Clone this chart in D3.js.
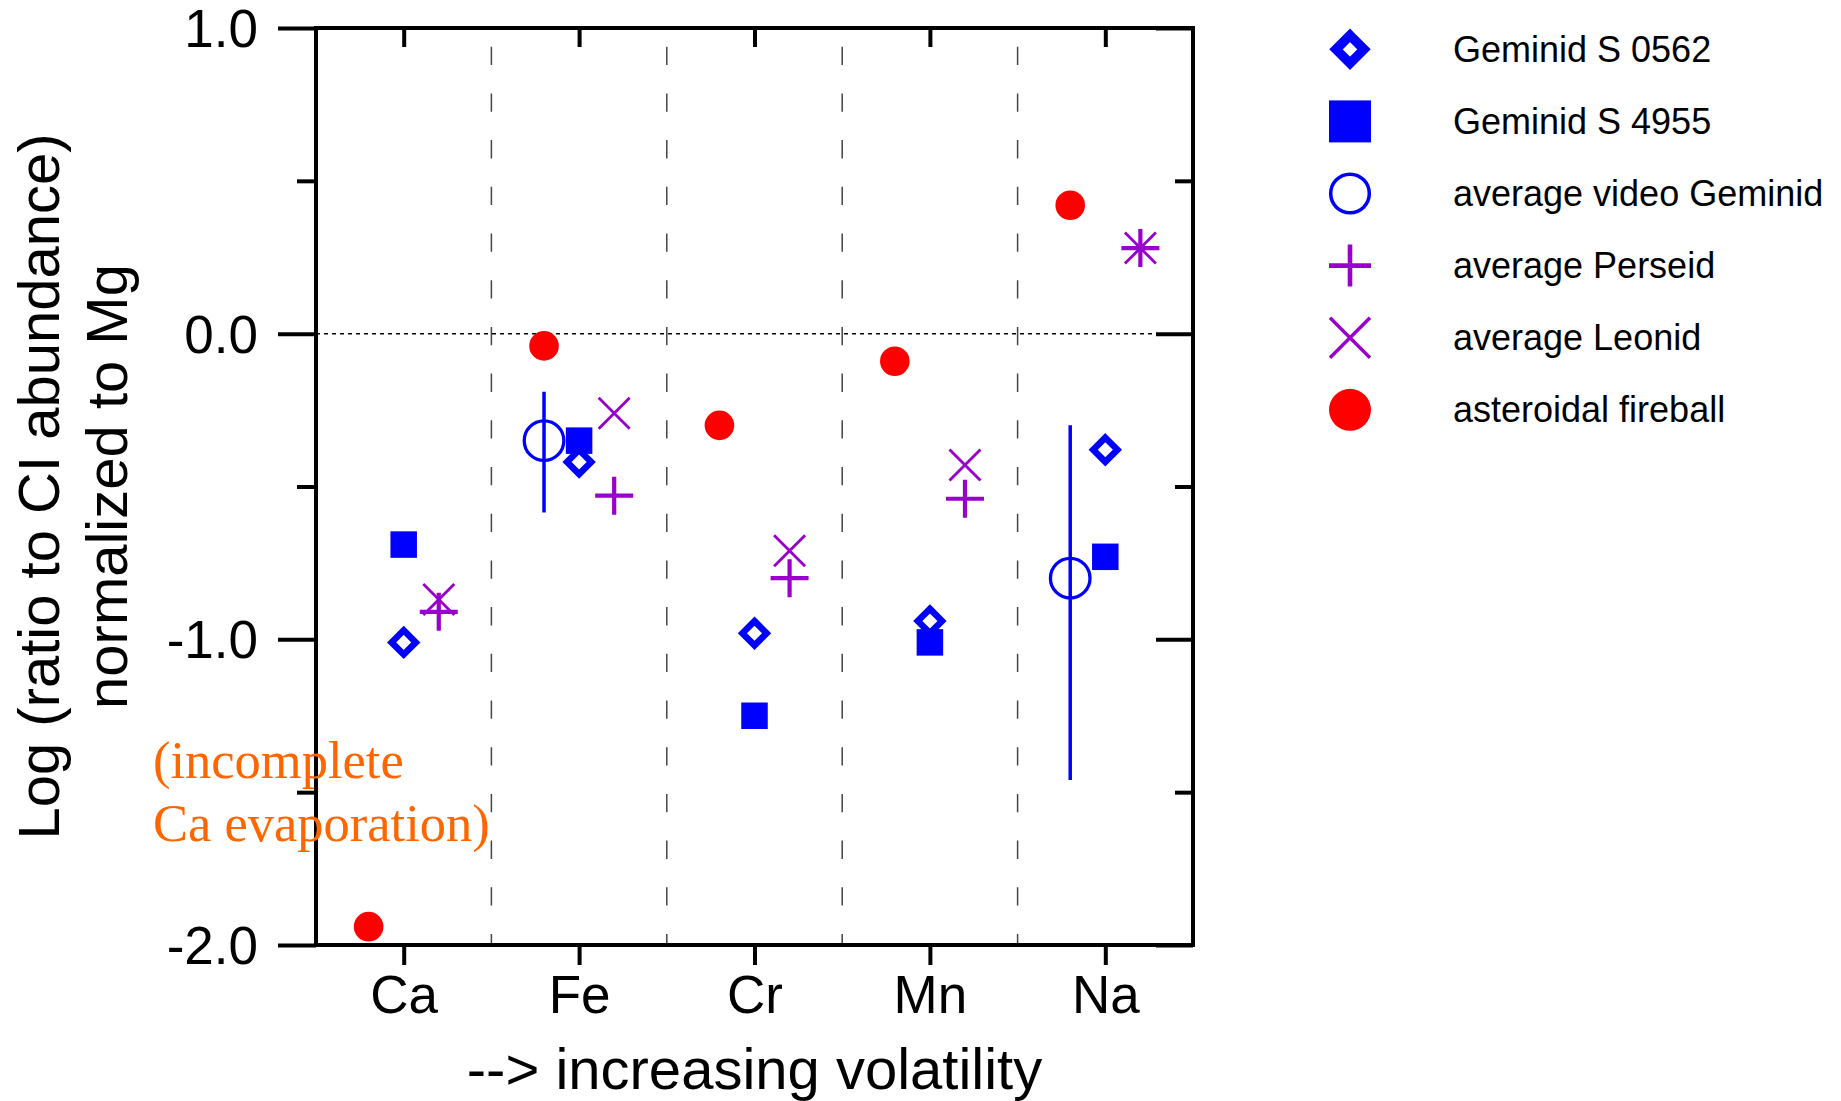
<!DOCTYPE html>
<html>
<head>
<meta charset="utf-8">
<script src="https://cdn.jsdelivr.net/npm/d3@7"></script>
<style>
  html, body { margin: 0; padding: 0; background: #fff; }
  svg { display: block; }
  text { font-family: "Liberation Sans", Arial, sans-serif; }
</style>
</head>
<body>
<svg id="chart" width="1841" height="1101"></svg>
<script>
// ---------------- data ----------------
const elements = ["Ca", "Fe", "Cr", "Mn", "Na"];
const gem0562 = [-1.01, -0.42, -0.98, -0.94, -0.38];
const gem4955 = [-0.69, -0.35, -1.25, -1.01, -0.73];
const videoGem = [null, -0.35, null, null, -0.80];
const videoLow = [null, -0.585, null, null, -1.46];
const videoHigh = [null, -0.19, null, null, -0.30];
const perseid = [-0.91, -0.53, -0.80, -0.54, 0.28];
const leonid = [-0.87, -0.26, -0.71, -0.43, 0.28];
const fireball = [-1.94, -0.04, -0.30, -0.09, 0.42];

const yMajor = [1, 0, -1, -2];
const yMajorLabels = ["1.0", "0.0", "-1.0", "-2.0"];
const yMinor = [0.5, -0.5, -1.5];
const separators = [1.5, 2.5, 3.5, 4.5];

const legendLabels = ["Geminid S 0562", "Geminid S 4955", "average video Geminid",
                      "average Perseid", "average Leonid", "asteroidal fireball"];

const yTitle = ["Log (ratio to CI abundance)", "normalized to Mg"];
const xTitle = "--> increasing volatility";
const note = ["(incomplete", "Ca evaporation)"];

// ---------------- setup ----------------
const BLUE = "#0000ff", RED = "#ff0000", PURPLE = "#9900cc", ORANGE = "#ff6600";
const svg = d3.select("#chart");
const L = 316, R = 1193, T = 28, B = 945;
const x = d3.scaleLinear().domain([0.5, 5.5]).range([L, R]);
const y = d3.scaleLinear().domain([-2, 1]).range([B, T]);
const OFF = 0.2;

const idx = elements.map((e, i) => i + 1);

// separators (dashed)
svg.append("g").selectAll("line").data(separators).join("line")
  .attr("x1", d => x(d)).attr("x2", d => x(d))
  .attr("y1", T + 18.7).attr("y2", B)
  .attr("stroke", "#444").attr("stroke-width", 1.5)
  .attr("stroke-dasharray", "18.3,28.4");

// zero line (dotted)
svg.append("line")
  .attr("x1", L).attr("x2", R).attr("y1", y(0)).attr("y2", y(0))
  .attr("stroke", "#000").attr("stroke-width", 1.5)
  .attr("stroke-dasharray", "4,4");

// axes
function styleAxis(g) {
  g.select(".domain").remove();
  g.selectAll(".tick line").attr("stroke", "#000").attr("stroke-width", 4);
  g.selectAll(".tick text").attr("fill", "#000")
    .style("font-family", '"Liberation Sans", Arial, sans-serif');
}
svg.append("g").attr("transform", `translate(${L},0)`)
  .call(d3.axisLeft(y).tickValues(yMajor).tickSize(38).tickPadding(20)
        .tickFormat((d, i) => yMajorLabels[i]))
  .call(styleAxis)
  .call(g => g.selectAll(".tick text").attr("font-size", 53).attr("dy", "0.35em"));
svg.append("g").attr("transform", `translate(${L},0)`)
  .call(d3.axisLeft(y).tickValues(yMinor).tickSize(19).tickFormat(""))
  .call(styleAxis);
svg.append("g").attr("transform", `translate(${R},0)`)
  .call(d3.axisRight(y).tickValues(yMajor).tickSize(-37).tickFormat(""))
  .call(styleAxis);
svg.append("g").attr("transform", `translate(${R},0)`)
  .call(d3.axisRight(y).tickValues(yMinor).tickSize(-18).tickFormat(""))
  .call(styleAxis);
svg.append("g").attr("transform", `translate(0,${B})`)
  .call(d3.axisBottom(x).tickValues(idx).tickSize(20).tickPadding(10)
        .tickFormat((d, i) => elements[i]))
  .call(styleAxis)
  .call(g => g.selectAll(".tick text").attr("font-size", 53));
svg.append("g").attr("transform", `translate(0,${T})`)
  .call(d3.axisTop(x).tickValues(idx).tickSize(-19).tickFormat(""))
  .call(styleAxis);

// frame
svg.append("rect").attr("x", L).attr("y", T).attr("width", R - L).attr("height", B - T)
  .attr("fill", "none").attr("stroke", "#000").attr("stroke-width", 4);

// ---------------- markers ----------------
function pts(arr, off) {
  return arr.map((v, i) => ({ i: i + 1, v, off })).filter(d => d.v !== null);
}
const plot = svg.append("g");

// error bars
const eb = videoGem.map((v, i) => ({ i: i + 1, v, lo: videoLow[i], hi: videoHigh[i] }))
  .filter(d => d.v !== null);
plot.selectAll(".eb").data(eb).join("line")
  .attr("x1", d => x(d.i - OFF)).attr("x2", d => x(d.i - OFF))
  .attr("y1", d => y(d.hi)).attr("y2", d => y(d.lo))
  .attr("stroke", BLUE).attr("stroke-width", 3.5);

// video circle
plot.selectAll(".vc").data(pts(videoGem, -OFF)).join("circle")
  .attr("cx", d => x(d.i + d.off)).attr("cy", d => y(d.v)).attr("r", 19.8)
  .attr("fill", "none").attr("stroke", BLUE).attr("stroke-width", 3.3);

// square
const sq = 26.5;
plot.selectAll(".sq").data(pts(gem4955, 0)).join("rect")
  .attr("x", d => x(d.i) - sq / 2).attr("y", d => y(d.v) - sq / 2)
  .attr("width", sq).attr("height", sq).attr("fill", BLUE);

// diamond
function diamondPath(h) {
  const p = d3.path();
  p.moveTo(0, -h); p.lineTo(h, 0); p.lineTo(0, h); p.lineTo(-h, 0); p.closePath();
  return p.toString();
}
plot.selectAll(".dm").data(pts(gem0562, 0)).join("path")
  .attr("transform", d => `translate(${x(d.i)},${y(d.v)})`)
  .attr("d", diamondPath(12.1))
  .attr("fill", "#fff").attr("stroke", BLUE).attr("stroke-width", 6.5)
  .attr("stroke-linejoin", "miter");

// plus
function plusPath(s) {
  const p = d3.path();
  p.moveTo(-s, 0); p.lineTo(s, 0); p.moveTo(0, -s); p.lineTo(0, s);
  return p.toString();
}
function crossPath(s) {
  const p = d3.path();
  p.moveTo(-s, -s); p.lineTo(s, s); p.moveTo(-s, s); p.lineTo(s, -s);
  return p.toString();
}
plot.selectAll(".pl").data(pts(perseid, OFF)).join("path")
  .attr("transform", d => `translate(${x(d.i + d.off)},${y(d.v)})`)
  .attr("d", plusPath(19)).attr("fill", "none")
  .attr("stroke", PURPLE).attr("stroke-width", 4.2);
plot.selectAll(".cr").data(pts(leonid, OFF)).join("path")
  .attr("transform", d => `translate(${x(d.i + d.off)},${y(d.v)})`)
  .attr("d", crossPath(15.5)).attr("fill", "none")
  .attr("stroke", PURPLE).attr("stroke-width", 2.8);

// fireball
plot.selectAll(".fb").data(pts(fireball, -OFF)).join("circle")
  .attr("cx", d => x(d.i + d.off)).attr("cy", d => y(d.v)).attr("r", 14.8)
  .attr("fill", RED);

// ---------------- legend ----------------
const lg = svg.append("g");
const lx = 1350, ly0 = 49.3, ldy = 72.1;
const rowY = i => ly0 + i * ldy;
lg.append("path").attr("transform", `translate(${lx},${rowY(0)})`)
  .attr("d", diamondPath(14)).attr("fill", "#fff").attr("stroke", BLUE).attr("stroke-width", 9.5);
lg.append("rect").attr("x", lx - 21).attr("y", rowY(1) - 21).attr("width", 42).attr("height", 42)
  .attr("fill", BLUE);
lg.append("circle").attr("cx", lx).attr("cy", rowY(2)).attr("r", 19.3)
  .attr("fill", "none").attr("stroke", BLUE).attr("stroke-width", 3.5);
lg.append("path").attr("transform", `translate(${lx},${rowY(3)})`)
  .attr("d", plusPath(21)).attr("stroke", PURPLE).attr("stroke-width", 4.6).attr("fill", "none");
lg.append("path").attr("transform", `translate(${lx},${rowY(4)})`)
  .attr("d", crossPath(20)).attr("stroke", PURPLE).attr("stroke-width", 3.4).attr("fill", "none");
lg.append("circle").attr("cx", lx).attr("cy", rowY(5)).attr("r", 21).attr("fill", RED);
lg.selectAll("text").data(legendLabels).join("text")
  .attr("x", 1453).attr("y", (d, i) => rowY(i) + 12.6)
  .attr("font-size", 36).attr("fill", "#000").text(d => d);

// ---------------- titles ----------------
svg.append("g").selectAll("text").data(yTitle).join("text")
  .attr("transform", (d, i) => `translate(${59 + i * 68},${(T + B) / 2}) rotate(-90)`)
  .attr("text-anchor", "middle").attr("font-size", 58).attr("fill", "#000")
  .text(d => d);
svg.append("text").attr("x", (L + R) / 2).attr("y", 1089)
  .attr("text-anchor", "middle").attr("font-size", 58).attr("fill", "#000")
  .text(xTitle);

// annotation
svg.append("g").selectAll("text").data(note).join("text")
  .attr("x", 153).attr("y", (d, i) => 777.5 + i * 63)
  .attr("font-size", 52.5).attr("fill", ORANGE)
  .style("font-family", '"Liberation Serif", "Times New Roman", serif')
  .text(d => d);
</script>
</body>
</html>
